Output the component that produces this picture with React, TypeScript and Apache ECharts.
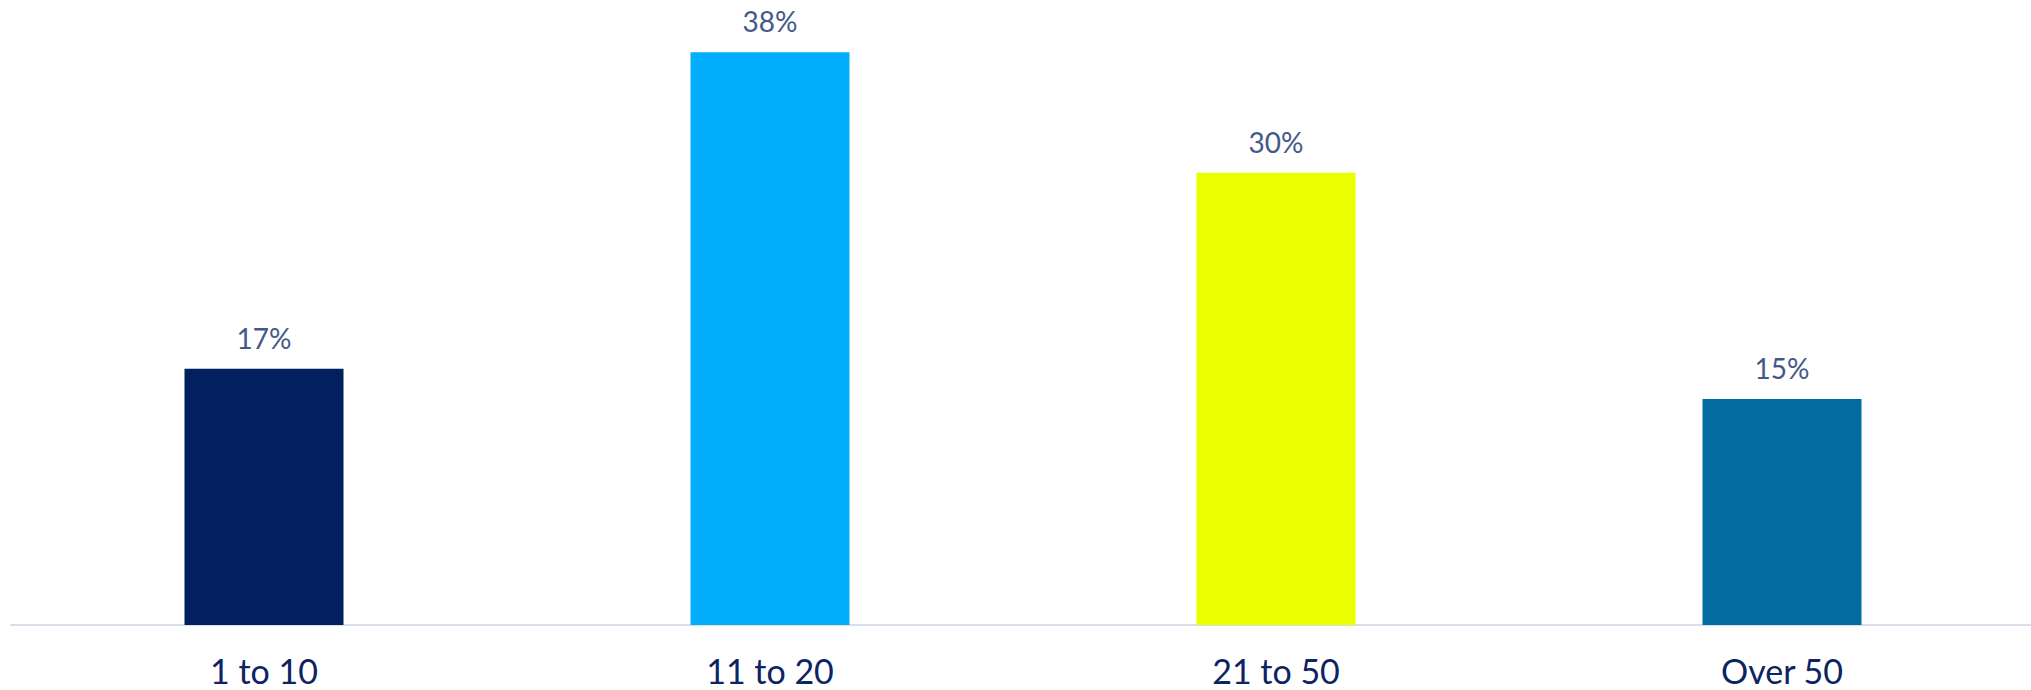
import React, { useEffect, useRef } from "react";
import * as echarts from "echarts";

const categories = ["1 to 10", "11 to 20", "21 to 50", "Over 50"];
const values = [17, 38, 30, 15];
const barColors = ["#021F5E", "#02AEFB", "#EAFF00", "#036BA0"];

export default function App() {
  const ref = useRef<HTMLDivElement>(null);
  useEffect(() => {
    if (!ref.current) return;
    const chart = echarts.init(ref.current, null, { renderer: "svg" });
    chart.setOption({
      animation: false,
      grid: { left: 11, right: 0, top: 22, bottom: 65, containLabel: false },
      xAxis: {
        type: "category",
        data: categories,
        axisLine: { show: true, lineStyle: { color: "#D9DEEA", width: 2 } },
        axisTick: { show: false },
        axisLabel: {
          color: "#0E2361",
          fontSize: 34,
          fontFamily: "Lato, 'Open Sans', sans-serif",
          margin: 28,
        },
      },
      yAxis: {
        type: "value",
        min: 0,
        max: 40,
        show: false,
        splitLine: { show: false },
      },
      series: [
        {
          type: "bar",
          barWidth: 159,
          data: values.map((v, i) => ({ value: v, itemStyle: { color: barColors[i] } })),
          label: {
            show: true,
            position: "top",
            distance: 17,
            formatter: "{c}%",
            color: "#44598A",
            fontSize: 28,
            fontFamily: "Lato, 'Open Sans', sans-serif",
          },
        },
      ],
    });
    return () => chart.dispose();
  }, []);
  return (
    <div style={{ position: "fixed", left: 0, top: 0, width: 2031, height: 690, overflow: "hidden", background: "#fff" }}>
      <div ref={ref} style={{ position: "absolute", left: 0, top: 0, width: 2035, height: 690 }} />
    </div>
  );
}
